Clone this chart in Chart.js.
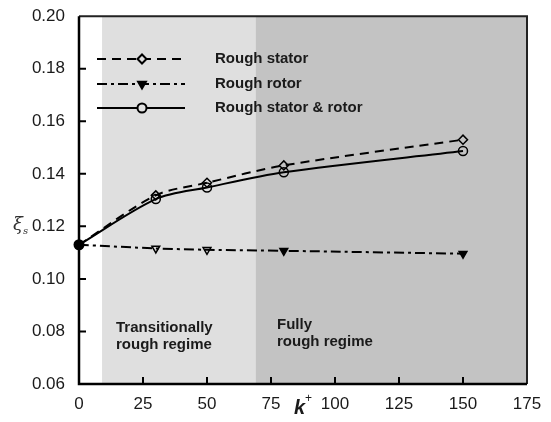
<!DOCTYPE html>
<html>
<head>
<meta charset="utf-8">
<script src="https://cdn.jsdelivr.net/npm/chart.js@4/dist/chart.umd.min.js"></script>
<style>
  html, body { margin: 0; background: #fff; }
  #wrap { width: 551px; height: 422px; }
</style>
</head>
<body>
<div id="wrap"><canvas id="c"></canvas></div>
<script>
// values
const kPlus = [0, 30, 50, 80, 150];
const roughStator = [0.113, 0.1318, 0.1366, 0.1432, 0.1530];
const roughRotor = [0.113, 0.1116, 0.1111, 0.1107, 0.1096];
const roughBoth = [0.113, 0.1304, 0.1348, 0.1406, 0.1487];
const xTicks = [0, 25, 50, 75, 100, 125, 150, 175];
const yTicks = [0.06, 0.08, 0.10, 0.12, 0.14, 0.16, 0.18, 0.20];
const regionEdges = [9, 69, 175];
const regionLabels = [["Transitionally", "rough regime"], ["Fully", "rough regime"]];
const seriesNames = ["Rough stator", "Rough rotor", "Rough stator & rotor"];

const pts = (ys) => kPlus.map((x, i) => ({ x, y: ys[i] }));

const PAD = { left: 6, right: 24, top: 15, bottom: 6 };
const NONE = "rgba(0,0,0,0)";

const decor = {
  id: "decor",
  beforeDatasetsDraw(chart) {
    const { ctx, chartArea: a, scales: { x } } = chart;
    ctx.save();
    // regime shading
    const fills = ["#dfdfdf", "#c3c3c3"];
    for (let i = 0; i < 2; i++) {
      const x0 = x.getPixelForValue(regionEdges[i]);
      const x1 = x.getPixelForValue(regionEdges[i + 1]);
      ctx.fillStyle = fills[i];
      ctx.fillRect(x0, a.top, x1 - x0, a.bottom - a.top);
    }
    // regime labels
    ctx.fillStyle = "#1a1a1a";
    ctx.font = "bold 15px 'Liberation Sans', Arial, sans-serif";
    ctx.textBaseline = "middle";
    ctx.textAlign = "left";
    const lx = [116, 277], ly = [[328, 345], [325, 342]];
    regionLabels.forEach((lines, i) => {
      lines.forEach((t, j) => ctx.fillText(t, lx[i], ly[i][j]));
    });
    ctx.restore();
  },
  afterDraw(chart) {
    const { ctx, chartArea: a, scales: { x, y } } = chart;
    ctx.save();
    // frame
    ctx.strokeStyle = "#222";
    ctx.lineWidth = 2;
    ctx.beginPath();
    ctx.moveTo(a.left, a.top); ctx.lineTo(a.right, a.top); ctx.lineTo(a.right, a.bottom);
    ctx.stroke();
    ctx.strokeStyle = "#000";
    ctx.lineWidth = 2.5;
    ctx.beginPath();
    ctx.moveTo(a.left, a.top); ctx.lineTo(a.left, a.bottom); ctx.lineTo(a.right, a.bottom);
    ctx.stroke();

    // inward ticks
    ctx.lineWidth = 2;
    ctx.beginPath();
    xTicks.slice(1, -1).forEach(v => {
      const px = x.getPixelForValue(v);
      ctx.moveTo(px, a.bottom); ctx.lineTo(px, a.bottom - 7);
    });
    yTicks.slice(1, -1).forEach(v => {
      const py = y.getPixelForValue(v);
      ctx.moveTo(a.left, py); ctx.lineTo(a.left + 7, py);
    });
    ctx.stroke();

    // start point drawn over the axis
    const meta = chart.getDatasetMeta(2).data[0];
    ctx.fillStyle = "#000";
    ctx.beginPath();
    ctx.arc(meta.x, meta.y, 5.5, 0, Math.PI * 2);
    ctx.fill();

    // legend
    const rows = [59, 84, 108];
    const legendFill = ["#e0e0e0", "#000", "#e0e0e0"];
    chart.data.datasets.forEach((ds, i) => {
      const ry = rows[i];
      ctx.strokeStyle = "#000";
      ctx.lineWidth = 2;
      ctx.setLineDash(ds.borderDash || []);
      ctx.beginPath();
      ctx.moveTo(97, ry); ctx.lineTo(185, ry);
      ctx.stroke();
      ctx.setLineDash([]);
      ctx.fillStyle = legendFill[i];
      ctx.strokeStyle = "#000";
      ctx.lineWidth = 2;
      Chart.helpers.drawPoint(ctx, {
        pointStyle: ds.pointStyle, radius: 4.5, rotation: ds.pointRotation || 0, borderWidth: 2
      }, 142, ry);
      ctx.fillStyle = "#1a1a1a";
      ctx.font = "bold 15px 'Liberation Sans', Arial, sans-serif";
      ctx.textAlign = "left";
      ctx.textBaseline = "middle";
      ctx.fillText(seriesNames[i], 215, ry);
    });

    // axis titles
    ctx.fillStyle = "#333";
    ctx.textBaseline = "alphabetic";
    ctx.font = "italic 18px 'DejaVu Serif', serif";
    ctx.fillText("\u03BE", 13, 230);
    ctx.font = "italic 10px 'DejaVu Serif', serif";
    ctx.fillText("s", 23, 234);
    ctx.fillStyle = "#1a1a1a";
    ctx.font = "bold italic 20px 'Liberation Sans', Arial, sans-serif";
    ctx.fillText("k", 294, 414);
    ctx.font = "12px 'Liberation Sans', Arial, sans-serif";
    ctx.fillText("+", 305, 402);
    ctx.restore();
  }
};

new Chart(document.getElementById("c"), {
  type: "line",
  data: {
    datasets: [
      {
        label: seriesNames[0],
        data: pts(roughStator),
        borderColor: "#000",
        borderWidth: 2,
        borderDash: [9, 6],
        pointStyle: "rectRot",
        pointRadius: [0, 4.5, 4.5, 4.5, 4.5],
        pointBorderWidth: 1.5,
        pointBorderColor: "#000",
        pointBackgroundColor: NONE,
        tension: 0.3
      },
      {
        label: seriesNames[1],
        data: pts(roughRotor),
        borderColor: "#000",
        borderWidth: 2,
        borderDash: [10, 4, 3, 4],
        pointStyle: "triangle",
        pointRotation: 180,
        pointRadius: [0, 4.5, 4.5, 4.5, 4.5],
        pointBorderWidth: 1.5,
        pointBorderColor: "#000",
        pointBackgroundColor: ["#000", NONE, NONE, "#000", "#000"],
        tension: 0.3
      },
      {
        label: seriesNames[2],
        data: pts(roughBoth),
        borderColor: "#000",
        borderWidth: 2,
        pointStyle: "circle",
        pointRadius: [0, 4.5, 4.5, 4.5, 4.5],
        pointBorderWidth: 1.5,
        pointBorderColor: "#000",
        pointBackgroundColor: NONE,
        tension: 0.3
      }
    ]
  },
  options: {
    responsive: true,
    maintainAspectRatio: false,
    animation: false,
    layout: { padding: PAD },
    plugins: { legend: { display: false }, tooltip: { enabled: false } },
    scales: {
      x: {
        type: "linear",
        min: 0, max: 175,
        afterBuildTicks: (s) => { s.ticks = xTicks.map(v => ({ value: v })); },
        afterFit: (s) => { s.height = 422 - 384 - PAD.bottom; },
        grid: { display: false },
        border: { display: false },
        ticks: {
          padding: 2,
          color: "#1a1a1a",
          font: { size: 17, family: "'Liberation Sans', Arial, sans-serif" },
          maxRotation: 0
        }
      },
      y: {
        type: "linear",
        min: 0.06, max: 0.20,
        afterBuildTicks: (s) => { s.ticks = yTicks.map(v => ({ value: v })); },
        afterFit: (s) => { s.width = 79 - PAD.left; },
        grid: { display: false },
        border: { display: false },
        ticks: {
          padding: 6,
          color: "#1a1a1a",
          font: { size: 17, family: "'Liberation Sans', Arial, sans-serif" },
          callback: (v) => Number(v).toFixed(2)
        }
      }
    }
  },
  plugins: [decor]
});
</script>
</body>
</html>
